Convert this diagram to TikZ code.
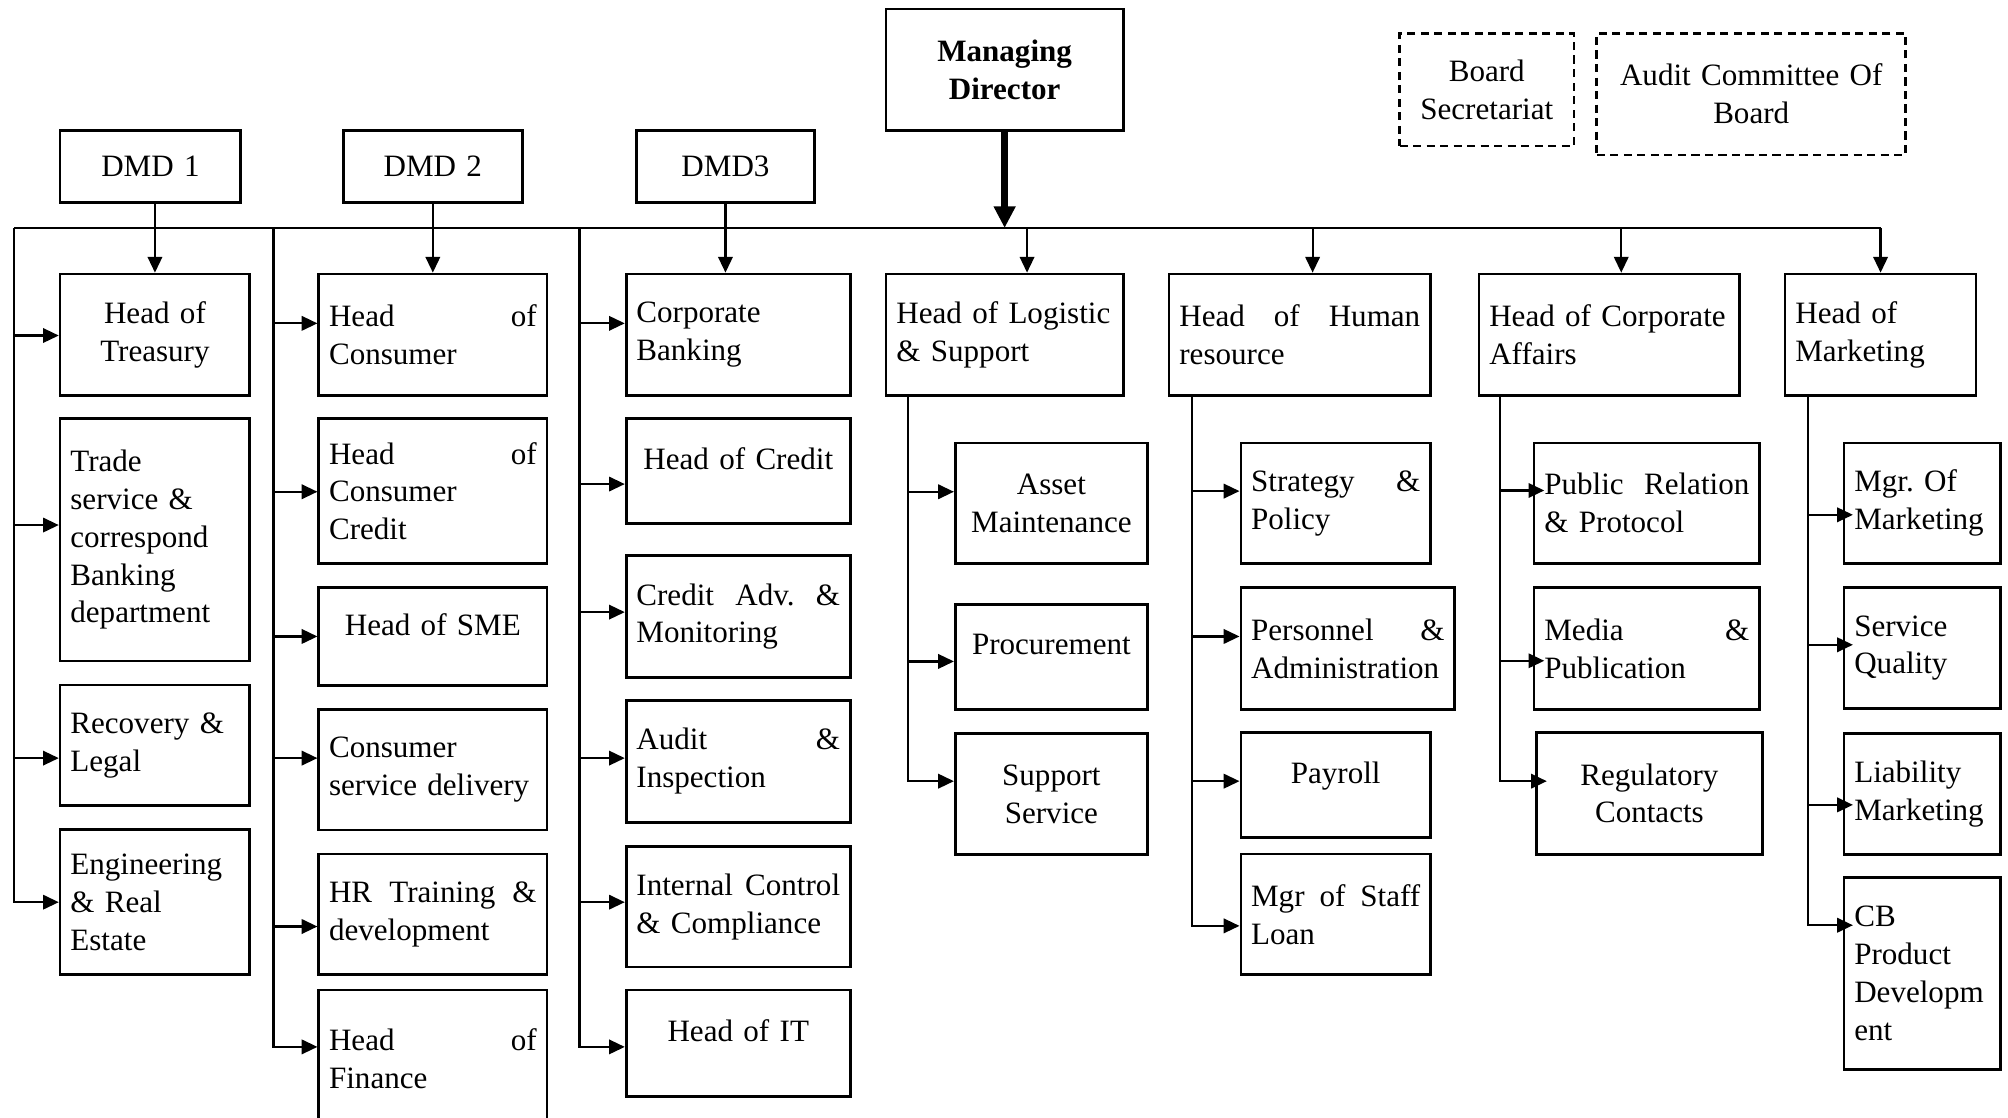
\documentclass[tikz,border=0pt]{standalone}
\usepackage{fontspec}
\setmainfont{Liberation Serif}
\usetikzlibrary{arrows.meta}
\frenchspacing

\begin{document}
\begin{tikzpicture}[x=0.01cm,y=-0.01cm,line width=0.5pt,>={Triangle[length=3.5pt,width=3.2pt]},
  unit/.style={draw,line width=0.6pt,inner xsep=0.08cm,inner ysep=0pt,font=\fontsize{6.9}{8.4}\selectfont,align=left},
  mid/.style={unit,align=center},
  raised/.style={text depth=5.5pt},
  board/.style={mid,dash pattern=on 1.8pt off 1.2pt}]
\path[use as bounding box,fill=white] (0,0) rectangle (1568,873);
\clip (0,0) rectangle (1568,873);

% top level
\node[mid,text width=1.69cm,minimum height=0.95cm,font=\fontsize{6.9}{8.4}\selectfont\bfseries] (md) at (784.5,54.5) {Managing\\Director};
\node[board,text width=1.20cm,minimum height=0.88cm] (bsec) at (1161,70) {Board\\Secretariat};
\node[board,text width=2.25cm,minimum height=0.95cm] (acb) at (1367.5,73.5) {Audit Committee Of\\Board};
\node[mid,text width=1.25cm,minimum height=0.56cm] (dmdA) at (117.5,130) {DMD 1};
\node[mid,text width=1.24cm,minimum height=0.56cm] (dmdB) at (338,130) {DMD 2};
\node[mid,text width=1.23cm,minimum height=0.56cm] (dmdC) at (566.5,130) {DMD3};

% DMD 1
\node[mid,text width=1.32cm,minimum height=0.95cm] (treas) at (121,261.5) {Head of\\Treasury};
\node[unit,text width=1.32cm,minimum height=1.89cm] (trade) at (121,421.5) {Trade\\service \&\\correspond\\Banking\\department};
\node[unit,text width=1.32cm,minimum height=0.94cm] (recov) at (121,582) {Recovery \&\\Legal};
\node[unit,text width=1.32cm,minimum height=1.13cm] (engin) at (121,704.5) {Engineering\\\& Real\\Estate};

% DMD 2
\node[unit,text width=1.62cm,minimum height=0.95cm] (cons) at (338,261.5) {Head\hfill of\\Consumer};
\node[unit,text width=1.62cm,minimum height=1.13cm] (ccred) at (338,383.5) {Head\hfill of\\Consumer\\Credit};
\node[mid,raised,text width=1.62cm,minimum height=0.76cm] (sme) at (338,497) {Head of SME};
\node[unit,text width=1.62cm,minimum height=0.94cm] (csd) at (338,601) {Consumer\\service delivery};
\node[unit,text width=1.62cm,minimum height=0.94cm] (hrtd) at (338,714) {HR\hfill Training\hfill \&\\development};
\node[unit,text width=1.62cm,minimum height=1.07cm] (fin) at (338,826.5) {Head\hfill of\\Finance};

% DMD3
\node[unit,text width=1.59cm,minimum height=0.95cm] (corp) at (576.5,261.5) {Corporate\\Banking};
\node[mid,raised,text width=1.59cm,minimum height=0.82cm] (cred) at (576.5,368) {Head of Credit};
\node[unit,text width=1.59cm,minimum height=0.95cm] (cadv) at (576.5,481.5) {Credit\hfill Adv.\hfill \&\\Monitoring};
\node[unit,text width=1.59cm,minimum height=0.95cm] (audit) at (576.5,594.5) {Audit\hfill \&\\Inspection};
\node[unit,text width=1.59cm,minimum height=0.94cm] (icc) at (576.5,708) {Internal\hfill Control\\\& Compliance};
\node[mid,raised,text width=1.59cm,minimum height=0.83cm] (hit) at (576.5,814.5) {Head of IT};

% logistic
\node[unit,text width=1.69cm,minimum height=0.95cm] (logi) at (784.5,261.5) {Head of Logistic\\\& Support};
\node[mid,text width=1.34cm,minimum height=0.94cm] (asset) at (821,393) {Asset\\Maintenance};
\node[mid,raised,text width=1.34cm,minimum height=0.82cm] (proc) at (821,513) {Procurement};
\node[mid,text width=1.34cm,minimum height=0.94cm] (supp) at (821,620) {Support\\Service};

% human resource
\node[unit,text width=1.88cm,minimum height=0.95cm] (hr) at (1015,261.5) {Head\hfill of\hfill Human\\resource};
\node[unit,text width=1.32cm,minimum height=0.94cm] (strat) at (1043,393) {Strategy\hfill \&\\Policy};
\node[unit,text width=1.51cm,minimum height=0.95cm] (pers) at (1052.5,506.5) {Personnel\hfill \&\\Administration};
\node[mid,raised,text width=1.32cm,minimum height=0.82cm] (pay) at (1043,613) {Payroll};
\node[unit,text width=1.32cm,minimum height=0.94cm] (loan) at (1043,714) {Mgr\hfill of\hfill Staff\\Loan};

% corporate affairs
\node[unit,text width=1.87cm,minimum height=0.95cm] (caff) at (1256.5,261.5) {Head of Corporate\\Affairs};
\node[unit,text width=1.60cm,minimum height=0.94cm] (pr) at (1286,393) {Public\hfill Relation\\\& Protocol};
\node[unit,text width=1.60cm,minimum height=0.95cm] (media) at (1286,506.5) {Media\hfill \&\\Publication};
\node[mid,text width=1.60cm,minimum height=0.95cm] (reg) at (1288,619.5) {Regulatory\\Contacts};

% marketing
\node[unit,text width=1.33cm,minimum height=0.95cm] (mkt) at (1468.5,261.5) {Head of\\Marketing};
\node[unit,text width=1.06cm,minimum height=0.94cm] (mgr) at (1501,393) {Mgr. Of\\Marketing};
\node[unit,text width=1.06cm,minimum height=0.94cm] (sq) at (1501,506) {Service\\Quality};
\node[unit,text width=1.06cm,minimum height=0.94cm] (liab) at (1501,620) {Liability\\Marketing};
\node[unit,text width=1.06cm,minimum height=1.50cm] (cbpd) at (1501,760) {CB\\Product\\Developm\\ent};

\coordinate (s1) at (11,178);
\coordinate (s2) at (213.5,178);
\coordinate (s3) at (452.5,178);
\coordinate (s4) at ([xshift=0.18cm]logi.south west);
\coordinate (s5) at ([xshift=0.19cm]hr.south west);
\coordinate (s6) at ([xshift=0.175cm]caff.south west);
\coordinate (s7) at ([xshift=0.19cm]mkt.south west);
\coordinate (t4) at (802,178);
\coordinate (t5) at (1025,178);
\coordinate (t6) at (1266,178);

% bus and heads
\draw (s1) -- (mkt.north |- s1);
\draw[->,line width=1.4pt,>={Triangle[length=4.8pt,width=4.6pt]}] (md) -- (md |- s1);
\draw[->] (dmdA.south -| treas.north) -- (treas.north);
\draw[->] (dmdB) -- (cons);
\draw[->] (dmdC) -- (dmdC |- corp.north);
\draw[->] (t4) -- (t4 |- logi.north);
\draw[->] (t5) -- (t5 |- hr.north);
\draw[->] (t6) -- (t6 |- caff.north);
\draw[->] (mkt.north |- s1) -- (mkt.north);

\draw[->] (s1) |- (treas.west |- 0,262);
\draw[->] (s1) |- (trade.west |- 0,410);
\draw[->] (s1) |- (recov.west |- 0,592);
\draw[->] (s1) |- (engin.west |- 0,704.5);

\draw[->] (s2) |- (cons.west |- 0,252.5);
\draw[->] (s2) |- (ccred.west |- 0,384);
\draw[->] (s2) |- (sme.west |- 0,497);
\draw[->] (s2) |- (csd.west |- 0,592);
\draw[->] (s2) |- (hrtd.west |- 0,723.5);
\draw[->] (s2) |- (fin.west |- 0,817.5);

\draw[->] (s3) |- (corp.west |- 0,252.5);
\draw[->] (s3) |- (cred.west |- 0,378);
\draw[->] (s3) |- (cadv.west |- 0,478);
\draw[->] (s3) |- (audit.west |- 0,592);
\draw[->] (s3) |- (icc.west |- 0,704.5);
\draw[->] (s3) |- (hit.west |- 0,817.5);

\draw[->] (s4) |- (asset.west |- 0,384);
\draw[->] (s4) |- (proc.west |- 0,516.5);
\draw[->] (s4) |- (supp.west |- 0,610);

\draw[->] (s5) |- (strat.west |- 0,383.5);
\draw[->] (s5) |- (pers.west |- 0,497);
\draw[->] (s5) |- (pay.west |- 0,610);
\draw[->] (s5) |- (loan.west |- 0,723);

\draw[->] (s6) |- (pr.west |- 0,383) -- ++(9,0);
\draw[->] (s6) |- (media.west |- 0,516) -- ++(9,0);
\draw[->] (s6) |- (reg.west |- 0,610) -- ++(9,0);

\draw[->] (s7) |- (mgr.west |- 0,402) -- ++(8,0);
\draw[->] (s7) |- (sq.west |- 0,503.5) -- ++(8,0);
\draw[->] (s7) |- (liab.west |- 0,628.5) -- ++(8,0);
\draw[->] (s7) |- (cbpd.west |- 0,722.5) -- ++(8,0);
\end{tikzpicture}
\end{document}
